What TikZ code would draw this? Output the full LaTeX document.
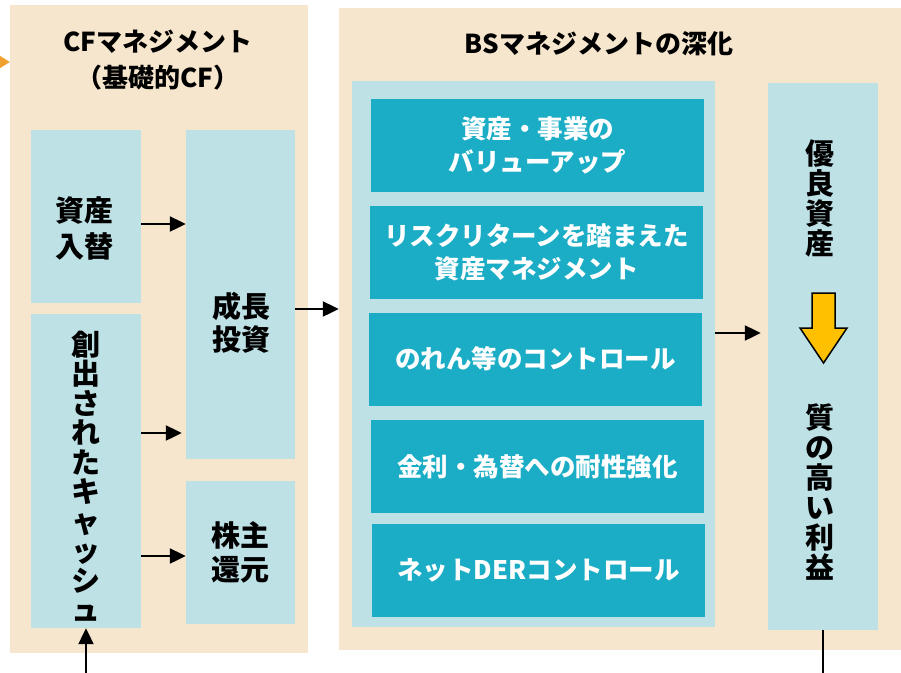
\documentclass[tikz,border=0pt]{standalone}
\usepackage{fontspec}
\setmainfont{Noto Sans CJK JP}
\usetikzlibrary{arrows.meta}
\definecolor{beige}{HTML}{F6E6CD}
\definecolor{paleblue}{HTML}{BEE1E6}
\definecolor{teal}{HTML}{1BADC5}
\definecolor{gold}{HTML}{FFC000}
\definecolor{amber}{HTML}{F0A02E}
\begin{document}
\begin{tikzpicture}[
    x=1pt, y=-1pt,
    panel/.style={rectangle, fill=beige, inner sep=0pt},
    cell/.style={rectangle, fill=paleblue, inner sep=0pt},
    item/.style={rectangle, fill=teal, inner sep=0pt, minimum width=333pt, minimum height=93pt, text=white, align=center, font={\fontsize{25.5pt}{33pt}\selectfont\bfseries}},
    title/.style={align=center, font={\fontsize{26pt}{36pt}\selectfont\bfseries}},
    word/.style={align=center, font={\fontsize{29pt}{36pt}\selectfont\bfseries}},
    column/.style={align=center, font={\fontsize{29pt}{29.5pt}\selectfont\bfseries}},
    arrow/.style={-{Triangle[length=16pt,width=15pt]}, line width=2.2pt},
    feed/.style={-{Triangle[length=18pt,width=22pt]}, line width=2.2pt, amber}
]
\useasboundingbox (0,0) rectangle (901,672);

% Panels
\node[panel, minimum width=298pt, minimum height=648pt] (cfpanel) at (159,329) {};
\node[panel, minimum width=581pt, minimum height=642pt] (bspanel) at (629.5,329) {};
\node[title] (cftitle) at (158,60) {CFマネジメント\\（基礎的CF）};
\node[title] (bstitle) at (599,44) {BSマネジメントの深化};

% CF side
\node[cell, minimum width=110pt, minimum height=173pt] (swap) at (86,216.5) {};
\node[word] (swaplbl) at (84,228) {資産\\入替};
\node[cell, minimum width=110pt, minimum height=314pt] (cash) at (86,471) {};
\node[column] (cashlbl) at (86,476) {創\\出\\さ\\れ\\た\\キ\\ャ\\ッ\\シ\\ュ};
\node[cell, minimum width=109pt, minimum height=329pt] (invest) at (240.5,294.5) {};
\node[word, font={\fontsize{29pt}{33pt}\selectfont\bfseries}] (investlbl) at (241,323) {成長\\投資};
\node[cell, minimum width=109pt, minimum height=143pt, word, font={\fontsize{29pt}{34pt}\selectfont\bfseries}] (payout) at (240.5,552.5) {株主\\還元};

% BS side
\node[cell, minimum width=363pt, minimum height=546pt] (measures) at (533.5,354) {};
\node[item] (valueup) at (537.5,145) {資産・事業の\\バリューアップ};
\node[item] (riskret) at (536.5,252) {リスクリターンを踏まえた\\資産マネジメント};
\node[item] (goodwill) at (535.5,359) {のれん等のコントロール};
\node[item] (rates) at (537.5,466.5) {金利・為替への耐性強化};
\node[item] (der) at (538.5,570.5) {ネットDERコントロール};
\node[cell, minimum width=110pt, minimum height=547pt] (result) at (823,356.5) {};
\node[column, font={\fontsize{29pt}{30pt}\selectfont\bfseries}] (goodlbl) at (820,198) {優\\良\\資\\産};
\node[column, font={\fontsize{29pt}{30pt}\selectfont\bfseries}] (profitlbl) at (820,492) {質\\の\\高\\い\\利\\益};
\draw[fill=gold, line width=1.5pt] (812,293) -- (835,293) -- (835,328) -- (847,328) -- (823.5,363) -- (800,328) -- (812,328) -- cycle;

% Arrows
\coordinate (cfsrc) at (-30,62);
\coordinate (cashsrc) at (86,700);
\coordinate (profitout) at (823,700);
\draw[feed] (cfsrc) -- (cfsrc -| cfpanel.west);
\draw[arrow] ([yshift=-7.5pt]swap.east) -- ([yshift=-7.5pt]swap.east -| invest.west);
\draw[arrow, shorten >=4pt] ([yshift=38pt]cash.east) -- ([yshift=38pt]cash.east -| invest.west);
\draw[arrow] ([yshift=-85pt]cash.east) -- ([yshift=-85pt]cash.east -| payout.west);
\draw[arrow] ([yshift=-14.5pt]invest.east) -- ([yshift=-14.5pt]invest.east -| bspanel.west);
\draw[arrow, shorten >=7pt] ([yshift=21pt]measures.east) -- ([yshift=21pt]measures.east -| result.west);
\draw[arrow] (cashsrc) -- (cash.south);
\draw[line width=2.2pt] (result.south) -- (profitout);

\end{tikzpicture}
\end{document}
